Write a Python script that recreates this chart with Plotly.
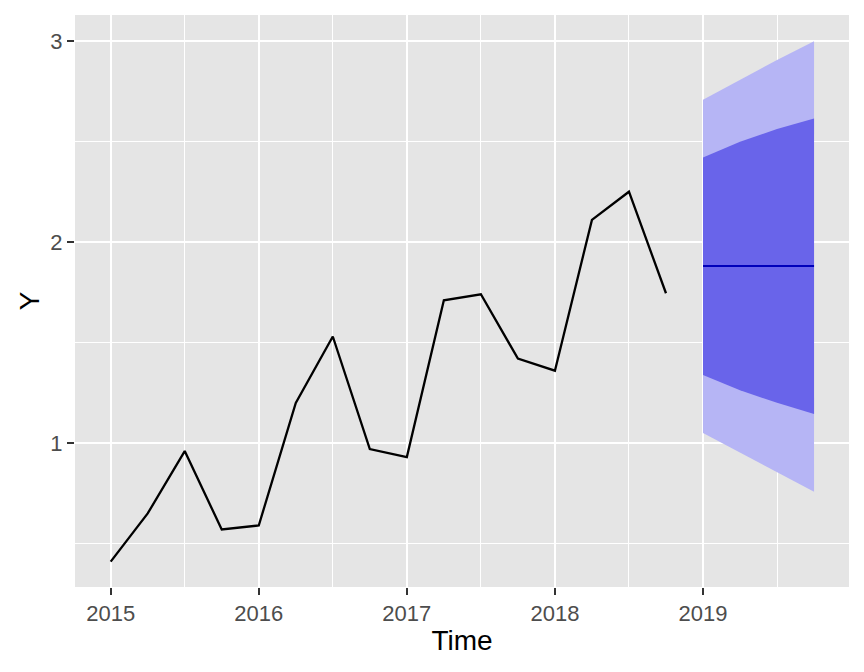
import plotly.graph_objects as go

# Observed series (quarterly)
time_obs = [2015.0, 2015.25, 2015.5, 2015.75, 2016.0, 2016.25, 2016.5, 2016.75,
            2017.0, 2017.25, 2017.5, 2017.75, 2018.0, 2018.25, 2018.5, 2018.75]
y_obs = [0.41, 0.65, 0.96, 0.57, 0.59, 1.20, 1.53, 0.97,
         0.93, 1.71, 1.74, 1.42, 1.36, 2.11, 2.25, 1.745]

# Forecast
time_fc = [2019.0, 2019.25, 2019.5, 2019.75]
mean_fc = [1.88, 1.88, 1.88, 1.88]
lo80 = [1.338, 1.262, 1.200, 1.144]
hi80 = [2.420, 2.499, 2.562, 2.614]
lo95 = [1.050, 0.952, 0.853, 0.758]
hi95 = [2.708, 2.807, 2.905, 2.999]

x_ticks = [2015, 2016, 2017, 2018, 2019]
y_ticks = [1, 2, 3]

col95 = "#B6B5F5"
col80 = "#6964EA"

fig = go.Figure()
fig.add_trace(go.Scatter(x=time_fc, y=lo95, mode="lines", line=dict(width=0),
                         showlegend=False, hoverinfo="skip"))
fig.add_trace(go.Scatter(x=time_fc, y=hi95, mode="lines", line=dict(width=0),
                         fill="tonexty", fillcolor=col95, showlegend=False))
fig.add_trace(go.Scatter(x=time_fc, y=lo80, mode="lines", line=dict(width=0),
                         showlegend=False, hoverinfo="skip"))
fig.add_trace(go.Scatter(x=time_fc, y=hi80, mode="lines", line=dict(width=0),
                         fill="tonexty", fillcolor=col80, showlegend=False))
fig.add_trace(go.Scatter(x=time_fc, y=mean_fc, mode="lines",
                         line=dict(color="#0000BB", width=2), showlegend=False))
fig.add_trace(go.Scatter(x=time_obs, y=y_obs, mode="lines",
                         line=dict(color="black", width=2.3), showlegend=False))

fig.update_layout(
    width=864, height=672,
    margin=dict(l=67, r=23, t=7, b=93, autoexpand=False),
    paper_bgcolor="white",
    plot_bgcolor="#E5E5E5",
    font=dict(family="Liberation Sans, Arial, sans-serif", color="#4D4D4D", size=22),
)
fig.update_xaxes(
    range=[2014.759, 2019.986], tickvals=x_ticks, ticktext=[str(v) for v in x_ticks],
    showgrid=True, gridcolor="white", gridwidth=2,
    minor=dict(dtick=0.5, tick0=2015, showgrid=True, gridcolor="white", gridwidth=1, ticks=""),
    ticks="outside", ticklen=7, tickwidth=2, tickcolor="#333333",
    zeroline=False, showline=False, automargin=False,
    tickfont=dict(size=22, color="#4D4D4D"),
    title=dict(text="Time", font=dict(size=28, color="black"), standoff=4),
)
fig.update_yaxes(
    range=[0.284, 3.129], tickvals=y_ticks, ticktext=[str(v) for v in y_ticks],
    showgrid=True, gridcolor="white", gridwidth=2,
    minor=dict(dtick=0.5, tick0=0, showgrid=True, gridcolor="white", gridwidth=1, ticks=""),
    ticks="outside", ticklen=7, tickwidth=2, tickcolor="#333333",
    zeroline=False, showline=False, automargin=False,
    tickfont=dict(size=22, color="#4D4D4D"),
    title=dict(text="Y", font=dict(size=28, color="black"), standoff=2),
)

fig.write_html("out.html")
